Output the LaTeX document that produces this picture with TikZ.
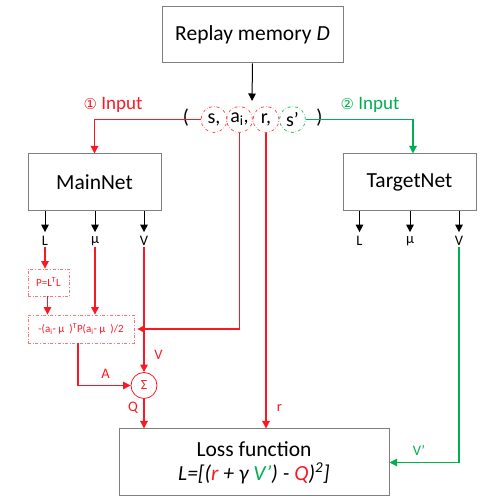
\documentclass[tikz,border=0pt]{standalone}
\usepackage{fontspec}
\setmainfont{Carlito}
\newfontfamily\dejavu{DejaVu Sans}
\usetikzlibrary{arrows.meta,calc}
\definecolor{myred}{RGB}{250,25,35}
\definecolor{mygreen}{RGB}{0,176,80}
\definecolor{boxgray}{RGB}{127,127,127}
\tikzset{
  box/.style={draw=boxgray, line width=1pt, fill=white, inner sep=0pt, font=\fontsize{21.5}{25}\selectfont},
  tip/.style={-{Triangle[length=7.5pt,width=7.5pt]}},
  blk/.style={tip, line width=1pt, black},
  rl/.style={line width=1.2pt, myred},
  gl/.style={line width=1.2pt, mygreen},
  tcirc/.style={circle, draw=#1, dash dot, line width=0.8pt, minimum size=26pt, inner sep=0pt, font=\fontsize{20}{24}\selectfont},
  dbox/.style={draw=myred!60, dash dot, line width=0.8pt, inner sep=0pt, text=myred, font=\fontsize{11}{13}\selectfont},
  lab/.style={font=\fontsize{14.5}{16}\selectfont},
  inp/.style={font=\fontsize{19}{22}\selectfont},
}
\begin{document}
\begin{tikzpicture}[x=1pt,y=-1pt]
\useasboundingbox (0,0) rectangle (504,502);
% boxes
\node[box, minimum width=181pt, minimum height=56pt] (replay) at (252.5,35) {Replay memory \textit{D}};
\node[box, minimum width=133pt, minimum height=57pt] (mnet) at (94.5,182.5) {MainNet};
\node[box, minimum width=133pt, minimum height=57pt] (tnet) at (409.5,182.5) {TargetNet};
\node[box, minimum width=270pt, minimum height=67pt, align=center] (loss) at (254,462.5)
  {Loss function\\[-1pt]\textit{L=[(\textcolor{myred}{r} + γ \textcolor{mygreen}{V’}) - \textcolor{myred}{Q})\textsuperscript{2}]}};
% tuple
\coordinate (tup) at (252,101);
\node[font=\fontsize{20}{24}\selectfont] (lp) at (186,118) {(};
\node[font=\fontsize{20}{24}\selectfont] (rp) at (319.5,118) {)};
\node[tcirc=myred!75] (s) at (214,119.5) {s,};
\node[tcirc=myred!75] (a) at (239.5,119.5) {a\textsubscript{i},};
\node[tcirc=myred!75] (r) at (266,119.5) {r,};
\node[tcirc=mygreen!80] (sp) at (292.5,119.5) {s’};
\node[inp, text=myred] (in1) at (113,105) {{\dejavu\fontsize{15}{18}\selectfont ①} Input};
\node[inp, text=mygreen] (in2) at (370,105) {{\dejavu\fontsize{15}{18}\selectfont ②} Input};
\draw[blk] (replay.south) -- (tup);
\draw[rl, tip] (s.west) -| (mnet.north);
\draw[gl, tip] (sp.east) -| ([xshift=3.5pt]tnet.north);
% outputs
\foreach \n/\x/\t in {mL/45/L, mmu/95/µ, mV/144/V, tL/359.5/L, tmu/410/µ, tV/459/V}{
  \node[lab, inner sep=1pt] (\n) at (\x,241) {\t};
}
\foreach \n/\b in {mL/mnet, mmu/mnet, mV/mnet, tL/tnet, tmu/tnet, tV/tnet}{
  \draw[blk, shorten >=3pt] (\b.south -| \n) -- (\n.north);
}
% red computations
\node[dbox, minimum width=41pt, minimum height=27pt] (P) at (48.5,282.5) {P=L\textsuperscript{T}L};
\node[dbox, minimum width=106pt, minimum height=28pt] (F) at (81,329) {-(a\textsubscript{i}- µ\ \ )\textsuperscript{T}P(a\textsubscript{i}- µ\ \ )/2};
\node[circle, draw=myred, line width=0.8pt, minimum size=26pt, inner sep=0pt, text=myred, font=\fontsize{14}{16}\selectfont] (sig) at (144,385.5) {Σ};
\draw[rl, tip] (mL.south) -- (P.north -| mL);
\draw[rl, tip] ([xshift=-1pt]P.south) -- ([xshift=-1pt]F.north -| P);
\draw[rl, tip] (mmu.south) -- (F.north -| mmu);
\draw[rl, tip] (mV.south) -- (sig.north);
\draw[rl, tip] (a.south) |- ([xshift=3pt]F.east);
\draw[rl, tip] ([xshift=-3pt]F.south) |- (sig.west);
\draw[rl, tip] (sig.south) -- (loss.north -| sig);
\draw[rl, tip] (r.south) -- (loss.north -| r);
\draw[gl, tip] (tV.south) |- (loss.east);
% labels
\node[lab, text=myred] (lA) at (105.5,374) {A};
\node[lab, text=myred] (lV) at (158.5,355) {V};
\node[lab, text=myred] (lQ) at (133,408) {Q};
\node[lab, text=myred] (lr) at (279.5,408) {r};
\node[lab, text=mygreen] (lVp) at (419,450) {V’};
\end{tikzpicture}
\end{document}
